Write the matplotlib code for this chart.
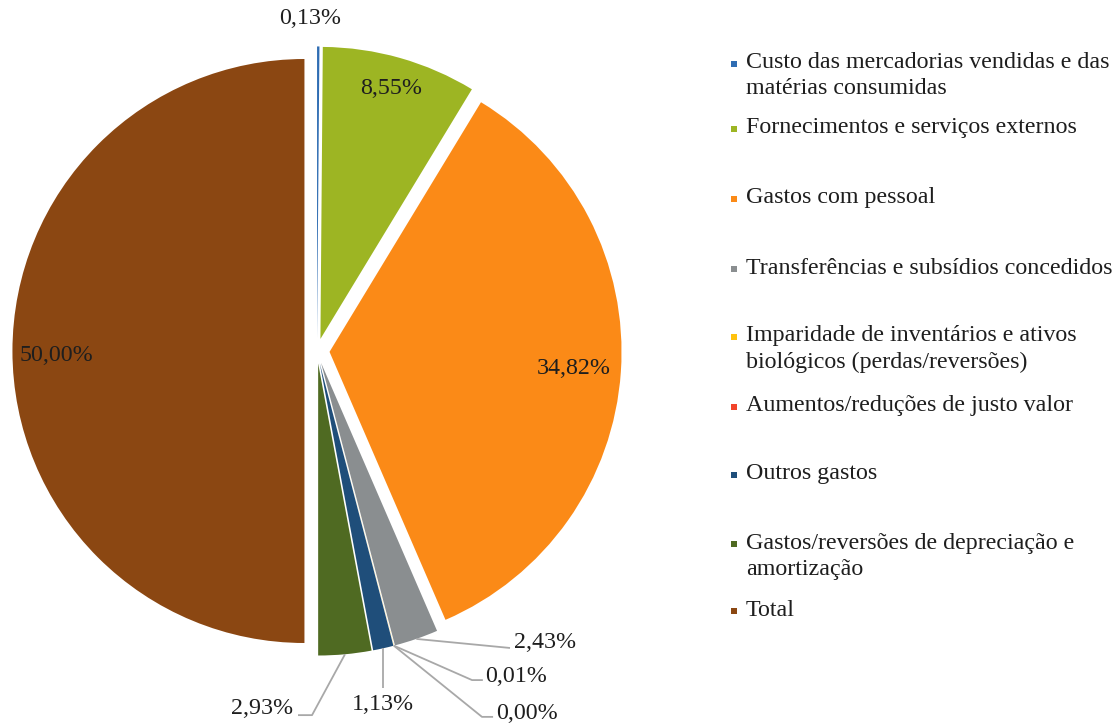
import numpy as np
import matplotlib
matplotlib.use("Agg")
import matplotlib.pyplot as plt

plt.rcParams['font.family'] = ['Liberation Serif', 'DejaVu Serif']

# cost structure (% of total)
categories = [
    "Custo das mercadorias vendidas e das\nmatérias consumidas",
    "Fornecimentos e serviços externos",
    "Gastos com pessoal",
    "Transferências e subsídios concedidos",
    "Imparidade de inventários e ativos\nbiológicos (perdas/reversões)",
    "Aumentos/reduções de justo valor",
    "Outros gastos",
    "Gastos/reversões de depreciação e\namortização",
    "Total",
]
values = [0.13, 8.55, 34.82, 2.43, 0.01, 0.00, 1.13, 2.93, 50.00]
colors = ["#2F6DB3", "#9DB523", "#FB8A17", "#8A8E90", "#FFC20E",
          "#F2442A", "#1F4E7A", "#4F6A22", "#8B4712"]

W, H = 1113, 723
fig = plt.figure(figsize=(W / 100, H / 100), dpi=100, facecolor="white")

# pie centre at (317, 351) px, radius 292 px
cx, cy, R = 317, 351, 292
ax = fig.add_axes([0, 0, 640 / W, 1])
wedges, _ = ax.pie(values, colors=colors, startangle=90, counterclock=False,
                   explode=[0.043] * len(values), radius=1,
                   wedgeprops=dict(linewidth=0))
ax.set_xlim(-cx / R, (640 - cx) / R)
ax.set_ylim(-(H - cy) / R, cy / R)
ax.set_aspect("auto")
ax.axis("off")

def fmt(v):
    return f"{v:.2f}%".replace(".", ",")

def mid(w, dist=1.0):
    a = np.deg2rad((w.theta1 + w.theta2) / 2)
    return (w.center[0] + dist * w.r * np.cos(a),
            w.center[1] + dist * w.r * np.sin(a))

fs = 17.3
txt = "#1e1e1e"
line_c = "#A8A8A8"

# labels inside the large slices
for i, d in [(1, 0.89), (2, 0.84), (8, 0.85)]:
    x, y = mid(wedges[i], d)
    if i == 8:
        y -= 0.015
    ax.text(x, y, fmt(values[i]), ha="center", va="center", fontsize=fs, color=txt)

# 0,13% just above its slice
x, y = mid(wedges[0])
ax.text(x - 0.028, y + 0.097, fmt(values[0]), ha="center", va="center",
        fontsize=fs, color=txt)

# small slices with leader lines: (index, text pos, elbow, line end)
leaders = [
    (3, (0.781, -1.000), None, (0.661, -1.017)),
    (4, (0.682, -1.116), (0.531, -1.127), (0.568, -1.127)),
    (5, (0.719, -1.240), (0.565, -1.253), (0.603, -1.253)),
    (6, (0.226, -1.212), None, (0.226, -1.154)),
    (7, (-0.188, -1.226), (-0.017, -1.247), (-0.065, -1.247)),
]
for i, tpos, elbow, end in leaders:
    ax0, ay0 = mid(wedges[i])
    xs, ys = [ax0], [ay0]
    if elbow is not None:
        xs.append(elbow[0]); ys.append(elbow[1])
    if i == 6:
        end = (ax0, end[1])
    xs.append(end[0]); ys.append(end[1])
    ax.plot(xs, ys, color=line_c, lw=1.3, solid_capstyle="butt")
    ax.text(tpos[0], tpos[1], fmt(values[i]), ha="center", va="center",
            fontsize=fs, color=txt)

# legend, drawn in pixel coordinates
lax = fig.add_axes([0, 0, 1, 1])
lax.set_xlim(0, W)
lax.set_ylim(H, 0)
lax.axis("off")
leg_y = [63, 128, 198, 268, 336, 406, 474, 543, 610]
for lab, c, y in zip(categories, colors, leg_y):
    lax.scatter([734], [y + 1], marker="s", s=24, color=c, linewidths=0)
    for k, line in enumerate(lab.split("\n")):
        lax.text(746, y + 26 * k, line, ha="left", va="center",
                 fontsize=fs, color=txt)

fig.savefig("out.png", dpi=100, facecolor="white")
